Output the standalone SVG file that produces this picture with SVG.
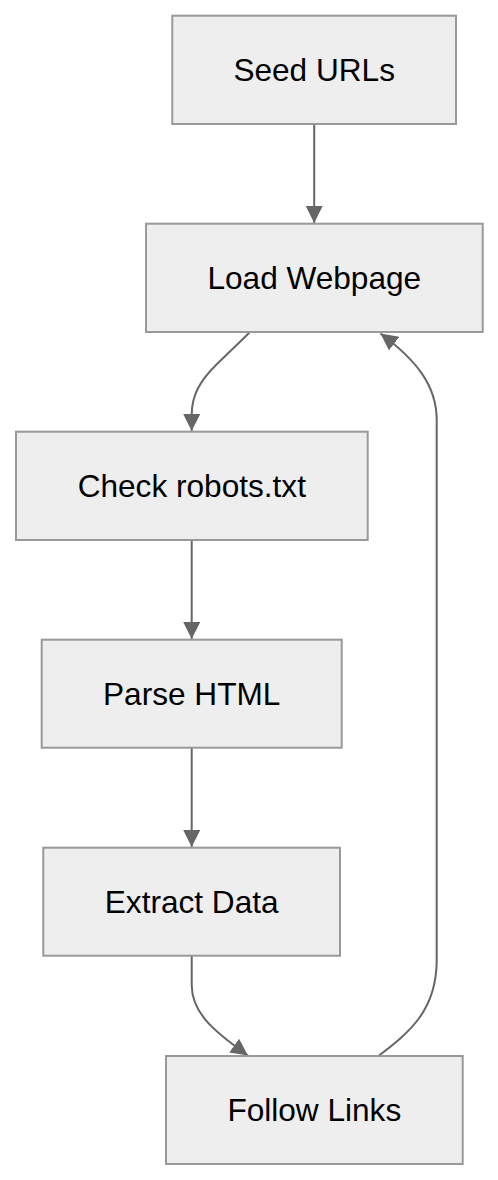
<svg xmlns="http://www.w3.org/2000/svg" width="498" height="1180" viewBox="0 0 498 1180">
<style>
.node rect{fill:#eeeeee;stroke:#999999;stroke-width:2}
.node text{font-family:"Liberation Sans",Arial,sans-serif;font-size:31.6px;fill:#000000;text-anchor:middle}
.edge{fill:none;stroke:#666666;stroke-width:2}
</style>
<defs>
<marker id="arrow" markerUnits="userSpaceOnUse" markerWidth="17" markerHeight="17" refX="16" refY="8" orient="auto" viewBox="0 0 16 16">
<path d="M0,0 L16,8 L0,16 z" fill="#666666"/>
</marker>
</defs>
<rect width="498" height="1180" fill="#ffffff"/>
<g id="connectors">
<path class="edge" d="M314.2,124 L314.2,223" marker-end="url(#arrow)"/>
<path class="edge" d="M249.3,332.7 L216,365 C200,381 191.7,395 191.7,415 L191.7,431" marker-end="url(#arrow)"/>
<path class="edge" d="M191.7,540 L191.7,639" marker-end="url(#arrow)"/>
<path class="edge" d="M191.7,747.7 L191.7,847" marker-end="url(#arrow)"/>
<path class="edge" d="M191.7,956 L191.7,985 C191.7,1012 212,1030 248,1055.5" marker-end="url(#arrow)"/>
<path class="edge" d="M378.3,1056 C410,1032 436.7,1010 436.7,960 L436.7,420 C436.7,385 416,360 380.5,333.5" marker-end="url(#arrow)"/>
</g>
<g id="node-seed" class="node">
<rect x="172.3" y="15.7" width="283.7" height="108.3"/>
<text x="314.2" y="81">Seed URLs</text>
</g>
<g id="node-load" class="node">
<rect x="146" y="223.7" width="336.7" height="108.3"/>
<text x="314.3" y="289">Load Webpage</text>
</g>
<g id="node-check" class="node">
<rect x="16" y="431.7" width="351.7" height="108.3"/>
<text x="191.8" y="497">Check robots.txt</text>
</g>
<g id="node-parse" class="node">
<rect x="41.7" y="639.7" width="300" height="108"/>
<text x="191.7" y="705">Parse HTML</text>
</g>
<g id="node-extract" class="node">
<rect x="43.3" y="847.7" width="296.7" height="108"/>
<text x="191.7" y="913">Extract Data</text>
</g>
<g id="node-follow" class="node">
<rect x="166" y="1056" width="296.7" height="108"/>
<text x="314.3" y="1121">Follow Links</text>
</g>
</svg>
